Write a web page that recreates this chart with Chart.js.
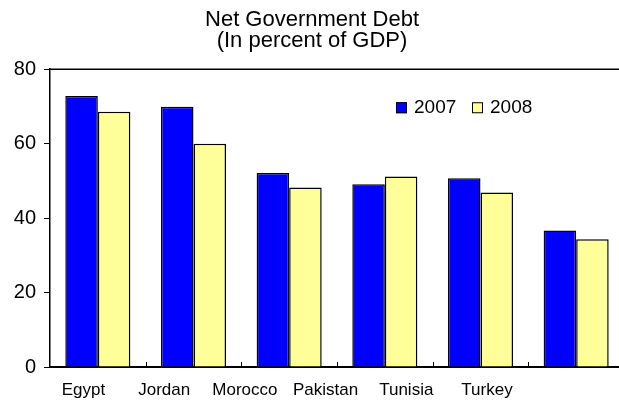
<!DOCTYPE html>
<html>
<head>
<meta charset="utf-8">
<script src="https://cdn.jsdelivr.net/npm/chart.js@4.4.1/dist/chart.umd.min.js"></script>
<style>
  html, body { margin: 0; padding: 0; background: #fff; overflow: hidden; }
  #wrap { width: 626px; height: 410px; }
</style>
</head>
<body>
<div id="wrap"><canvas id="debtChart" width="626" height="410"></canvas></div>
<script>
// ----- Données -----
const pays = ['Egypt', 'Jordan', 'Morocco', 'Pakistan', 'Tunisia', 'Turkey'];
const dette2007 = [72.8, 69.9, 52.1, 49.1, 50.7, 36.7];
const dette2008 = [68.6, 60.0, 48.2, 51.2, 46.9, 34.3];
const yTicks = [0, 20, 40, 60, 80];

const FONT = 'Arial, "Liberation Sans", sans-serif';
Chart.defaults.font.family = FONT;
Chart.defaults.color = '#000';

// cadre du haut, petites graduations entre catégories, légende dans la zone
const decorPlugin = {
  id: 'decor',
  afterDatasetsDraw(chart) {
    const ctx = chart.ctx;
    const area = chart.chartArea;
    const x = chart.scales.x;
    ctx.save();
    ctx.strokeStyle = '#000';
    ctx.lineWidth = 1.5;
    ctx.beginPath();
    ctx.moveTo(area.left, area.top);
    ctx.lineTo(area.right, area.top);
    ctx.stroke();

    ctx.lineWidth = 1;
    for (let i = 1; i < pays.length; i++) {
      const px = Math.round((x.getPixelForTick(i - 1) + x.getPixelForTick(i)) / 2) + 0.5;
      ctx.beginPath();
      ctx.moveTo(px, area.bottom);
      ctx.lineTo(px, area.bottom - 5);
      ctx.stroke();
    }

    // légende
    let lx = area.left + 346;
    const ly = area.top + 33;
    ctx.font = '19px ' + FONT;
    ctx.textBaseline = 'middle';
    chart.data.datasets.forEach(ds => {
      ctx.fillStyle = ds.backgroundColor;
      ctx.fillRect(lx, ly, 11, 11);
      ctx.lineWidth = 1;
      ctx.strokeStyle = '#000';
      ctx.strokeRect(lx + 0.5, ly + 0.5, 10, 10);
      ctx.fillStyle = '#000';
      ctx.fillText(ds.label, lx + 18, ly + 6);
      lx += 76;
    });
    ctx.restore();
  }
};

// bornes de l'axe des libellés (décalés par rapport aux barres dans l'original)
const LBL_MIN = -0.415, LBL_MAX = 6.698;

new Chart(document.getElementById('debtChart'), {
  type: 'bar',
  data: {
    labels: pays,
    datasets: [
      { label: '2007', data: dette2007, backgroundColor: '#0000FF', borderColor: '#000', borderWidth: 1.5 },
      { label: '2008', data: dette2008, backgroundColor: '#FFFF99', borderColor: '#000', borderWidth: 1.5 }
    ]
  },
  options: {
    responsive: false,
    animation: false,
    layout: { padding: { left: 0, right: 2, top: 0, bottom: 0 } },
    datasets: { bar: { categoryPercentage: 0.68, barPercentage: 1 } },
    plugins: {
      legend: { display: false },
      tooltip: { enabled: false },
      title: {
        display: true,
        text: ['Net Government Debt', '(In percent of GDP)'],
        color: '#000',
        font: { size: 22, weight: 'normal', lineHeight: 0.96 },
        padding: { top: 9, bottom: 18 }
      }
    },
    scales: {
      x: {
        weight: 0,
        grid: { display: false, drawTicks: false },
        border: { display: true, color: '#000', width: 2 },
        ticks: { display: false },
        afterFit(scale) { scale.height = 0; }
      },
      xl: {
        type: 'linear',
        position: 'bottom',
        weight: 1,
        offset: false,
        bounds: 'data',
        min: LBL_MIN,
        max: LBL_MAX,
        afterBuildTicks(scale) {
          scale.ticks = pays.map((p, i) => ({ value: i }));
          scale.min = LBL_MIN;
          scale.max = LBL_MAX;
        },
        grid: { display: false, drawTicks: false },
        border: { display: false },
        ticks: {
          font: { size: 17 }, color: '#000', padding: 13, maxRotation: 0, autoSkip: false,
          callback: (v, i) => pays[i]
        },
        afterFit(scale) { scale.height = 43; }
      },
      y: {
        min: 0,
        max: 80,
        afterBuildTicks(scale) { scale.ticks = yTicks.map(v => ({ value: v })); },
        grid: { drawOnChartArea: false, drawTicks: true, tickLength: 6, color: '#000' },
        border: { display: true, color: '#000', width: 1.5 },
        ticks: { font: { size: 20 }, color: '#000', padding: 8 },
        afterFit(scale) { scale.width = 50; }
      }
    }
  },
  plugins: [decorPlugin]
});
</script>
</body>
</html>
